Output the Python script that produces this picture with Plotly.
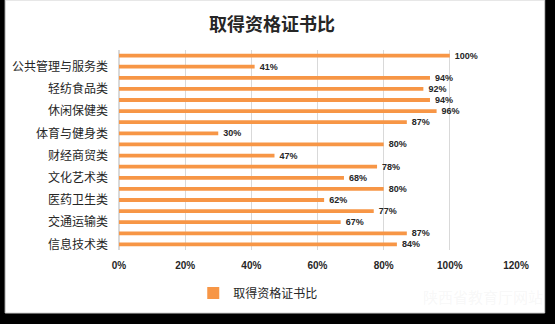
import plotly.graph_objects as go

# Categories listed bottom to top, with the share holding a qualification certificate
categories = [
    "信息技术类", "加工制造类", "交通运输类", "土木水利类", "医药卫生类", "旅游服务类",
    "文化艺术类", "教育类", "财经商贸类", "石油化工类", "体育与健身类", "资源环境类",
    "休闲保健类", "能源与新能源类", "轻纺食品类", "司法服务类", "公共管理与服务类", "农林牧渔类",
]
cert_share = [0.84, 0.87, 0.67, 0.77, 0.62, 0.80, 0.68, 0.78, 0.47, 0.80,
              0.30, 0.87, 0.96, 0.94, 0.92, 0.94, 0.41, 1.00]
# Only every other category name is printed on the axis
shown_labels = categories[0::2]
x_ticks = [0, 0.2, 0.4, 0.6, 0.8, 1.0, 1.2]

series_name = "取得资格证书比"
bar_color = "#F79646"
cjk = "Noto Sans CJK SC"
latin = "Liberation Sans"

W, H = 555, 324
L, R, T, B = 115, 39, 50, 74
pw, ph = W - L - R, H - T - B


def px_x(p):
    return (p - L) / pw


def px_y(p):
    return (H - B - p) / ph


fig = go.Figure()
fig.add_trace(go.Bar(
    y=categories,
    x=cert_share,
    orientation="h",
    name=series_name,
    marker=dict(color=bar_color, line=dict(width=0)),
    texttemplate="\u00a0\u00a0%{x:.0%}",
    textposition="outside",
    constraintext="none",
    cliponaxis=False,
    textfont=dict(family=latin, size=9, color="#262626", weight="bold"),
    hoverinfo="skip",
))

fig.update_layout(
    width=W, height=H,
    margin=dict(l=L, r=R, t=T, b=B),
    paper_bgcolor="#000000",
    plot_bgcolor="rgba(0,0,0,0)",
    bargap=0.66,
    title=dict(
        text="<b>取得资格证书比</b>",
        font=dict(family=cjk, size=18, color="#262626"),
        x=272 / W, xanchor="center", xref="container",
        y=1 - 25 / H, yanchor="middle", yref="container",
    ),
    showlegend=True,
    legend=dict(
        orientation="h",
        x=px_x(190), xanchor="left",
        y=px_y(293), yanchor="middle",
        font=dict(family=cjk, size=12, color="#262626"),
        bgcolor="rgba(0,0,0,0)",
        itemwidth=30,
    ),
    xaxis=dict(
        range=[0, 1.2],
        tickvals=x_ticks,
        tickformat=".0%",
        showgrid=True,
        gridcolor="#d9d9d9",
        gridwidth=1,
        zeroline=True,
        zerolinecolor="#d9d9d9",
        showline=False,
        ticks="",
        tickfont=dict(family=latin, size=10, color="#262626", weight="bold"),
        ticklabelstandoff=8,
        fixedrange=True,
    ),
    yaxis=dict(
        type="category",
        categoryorder="array",
        categoryarray=categories,
        tickmode="array",
        tickvals=shown_labels,
        ticktext=shown_labels,
        showgrid=False,
        zeroline=False,
        showline=False,
        ticks="",
        tickfont=dict(family=cjk, size=12, color="#262626"),
        ticklabelstandoff=10,
        fixedrange=True,
    ),
    shapes=[
        # white chart card on the dark backdrop
        dict(type="rect", xref="paper", yref="paper",
             x0=px_x(0), x1=px_x(545), y0=px_y(313), y1=px_y(0),
             fillcolor="#ffffff", line=dict(color="#d0d0d0", width=1),
             layer="below"),
    ],
    annotations=[
        dict(text="陕西省教育厅网站", xref="paper", yref="paper",
             x=px_x(545), y=px_y(296), xanchor="right", yanchor="middle",
             showarrow=False,
             font=dict(family=cjk, size=15, color="rgba(200,200,200,0.15)")),
    ],
)

fig.write_html("out.html")
